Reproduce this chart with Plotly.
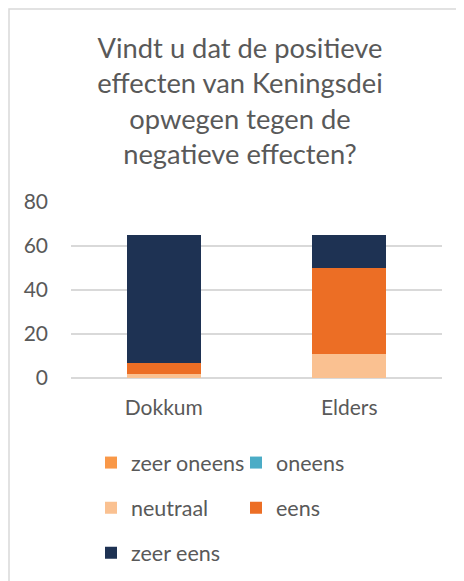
import plotly.graph_objects as go

categories = ["Dokkum", "Elders"]
series_names = ["zeer oneens", "oneens", "neutraal", "eens", "zeer eens"]
zeer_oneens = [0, 0]
oneens = [0, 0]
neutraal = [2, 11]
eens = [5, 39]
zeer_eens = [58, 15]
y_ticks = [0, 20, 40, 60, 80]
title_text = "Vindt u dat de positieve<br>effecten van Keningsdei<br>opwegen tegen de<br>negatieve effecten?"

values = [zeer_oneens, oneens, neutraal, eens, zeer_eens]
colors = ["#F99848", "#4BACC6", "#FAC191", "#EC6E25", "#1E3253"]
legend_ids = ["legend", "legend", "legend2", "legend2", "legend3"]

TXT = "#595959"
GRID = "#D9D9D9"
FONT = "Lato"

fig = go.Figure()
for name, vals, col, lg in zip(series_names, values, colors, legend_ids):
    fig.add_trace(go.Bar(x=categories, y=vals, name=name, marker_color=col,
                         marker_line_width=0, legend=lg))

# page body has an 8px offset; layout positions below are in figure px
OFF = 8
plot_left = 71 - OFF
plot_right = 442 - OFF
plot_top = 202.3 - OFF
plot_bottom = 377.7 - OFF
plot_w = plot_right - plot_left
plot_h = plot_bottom - plot_top

def py(px):
    return (plot_bottom - (px - OFF)) / plot_h

def px_(x):
    return ((x - OFF) - plot_left) / plot_w

leg_common = dict(orientation="h", xanchor="left", yanchor="middle",
                  font=dict(family=FONT, size=21.5, color=TXT),
                  entrywidth=100, entrywidthmode="pixels",
                  bgcolor="rgba(0,0,0,0)", traceorder="normal")

fig.update_layout(
    width=464, height=581,
    margin=dict(l=plot_left, r=464 - plot_right, t=plot_top,
                b=581 - plot_bottom, autoexpand=False),
    paper_bgcolor="white", plot_bgcolor="white",
    barmode="stack", bargap=0.6,
    font=dict(family=FONT, color=TXT),
    title=dict(text=title_text, x=0.5, xanchor="center",
               y=1 - 50 / 581, yanchor="middle", yref="container",
               font=dict(family=FONT, size=27.3, color=TXT)),
    xaxis=dict(showgrid=False, showline=False, ticks="",
               tickfont=dict(family=FONT, size=21, color=TXT),
               ticklabelstandoff=15),
    yaxis=dict(range=[0, 80], tickvals=y_ticks, showgrid=True,
               gridcolor=GRID, gridwidth=1.5, zeroline=True,
               zerolinecolor=GRID, zerolinewidth=1.5, showline=False,
               ticks="", tickfont=dict(family=FONT, size=21, color=TXT),
               ticklabelstandoff=22),
    legend=dict(x=px_(91), y=py(462), **leg_common),
    legend2=dict(x=px_(91), y=py(507), **leg_common),
    legend3=dict(x=px_(91), y=py(552), **leg_common),
    shapes=[dict(type="rect", xref="paper", yref="paper",
                 x0=px_(OFF + 1), x1=2.0, y0=-3.0, y1=py(10),
                 line=dict(color=GRID, width=1.5), fillcolor="rgba(0,0,0,0)",
                 layer="below")],
)

fig.write_html("out.html")
